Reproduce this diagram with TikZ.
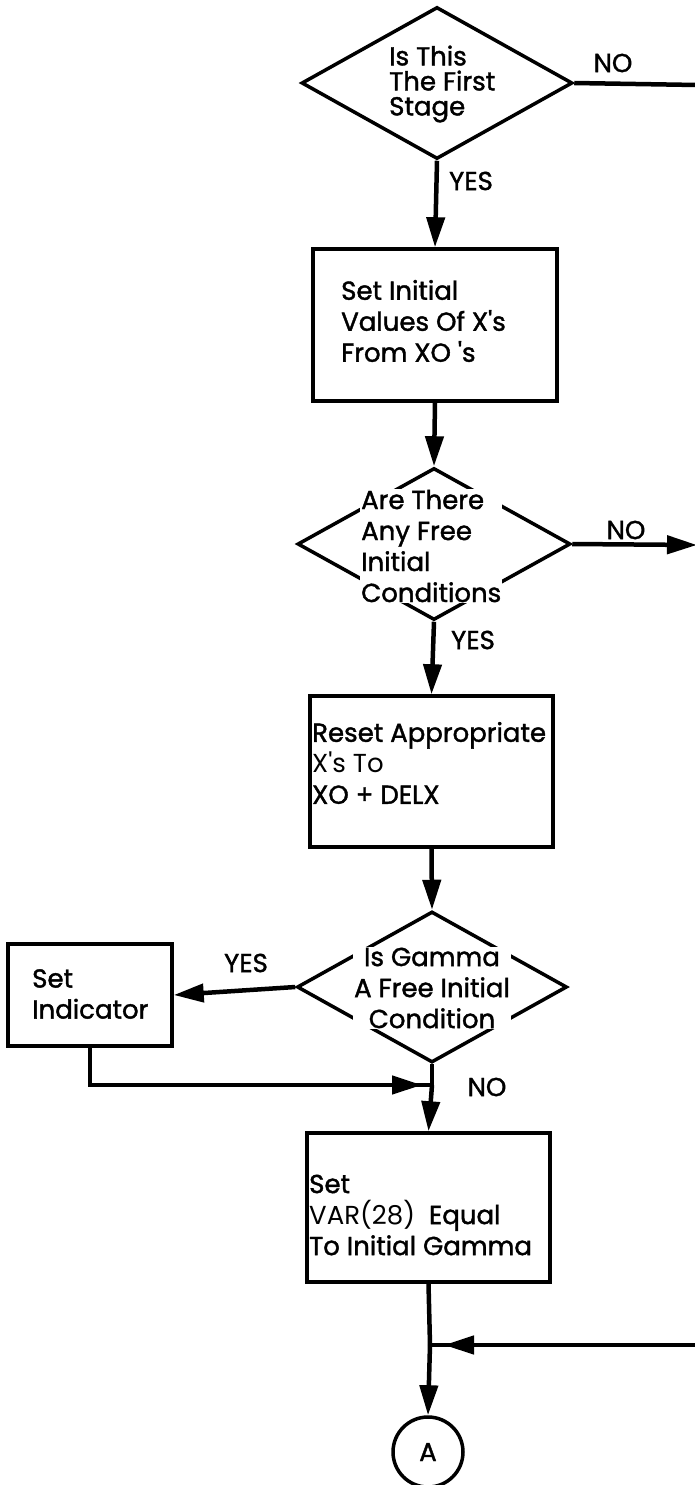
\documentclass[tikz,border=0pt]{standalone}
\usepackage{fontspec}
\setmainfont{Poppins}[Ligatures=TeXOff]
\newfontfamily\heavy{Poppins}[FakeBold=1.5,Ligatures=TeXOff]
\usetikzlibrary{shapes.geometric,arrows.meta}
\begin{document}
\begin{tikzpicture}[x=1pt,y=-1pt,
  every node/.style={font=\heavy\fontsize{26}{31}\selectfont},
  procbox/.style={draw,line width=3.5pt,rectangle,inner sep=0pt},
  decision/.style={draw,line width=3.5pt,diamond,inner sep=0pt},
  txt/.style={inner sep=0pt,align=left,anchor=west},
  lbl/.style={inner sep=0pt},
  flow/.style={line width=4.5pt},
  arr/.style={flow,-{Triangle[length=30pt,width=18pt]}},
  conn/.style={draw,circle,line width=3.5pt,minimum size=70pt,inner sep=0pt}]
\useasboundingbox (0,0) rectangle (694,1485);

% decisions and processes
\node[decision,minimum width=271pt,minimum height=152pt] (d1) at (437,83) {};
\node[txt,font=\heavy\fontsize{26}{25}\selectfont] (d1t) at (389,84) {Is This\\The First\\Stage};

\node[procbox,minimum width=244pt,minimum height=152pt] (b1) at (435,325) {};
\node[txt] (b1t) at (341,321) {Set Initial\\Values Of X's\\From XO 's};

\node[decision,minimum width=273pt,minimum height=152pt] (d2) at (434,544) {};
\node[txt,fill=white,inner sep=1pt] (d2t) at (360,546) {Are There\\Any Free\\Initial\\Conditions};

\node[procbox,minimum width=243pt,minimum height=151pt] (b2) at (431.5,771.5) {};
\node[txt] (b2t) at (312,763) {Reset Appropriate\\{\normalfont\fontsize{26}{31}\selectfont X's To}\\XO + DELX};

\node[decision,minimum width=270pt,minimum height=151pt] (d3) at (432,987) {};
\node[lbl,align=center,fill=white,inner sep=1pt] (d3t) at (432,988) {Is Gamma\\A Free Initial\\Condition};

\node[procbox,minimum width=164pt,minimum height=102pt] (si) at (90,995) {};
\node[txt] (sit) at (32,994) {Set\\Indicator};

\node[procbox,minimum width=243pt,minimum height=149pt] (b3) at (428.5,1207.5) {};
\node[txt] (b3t) at (309,1215) {Set\\{\normalfont\fontsize{26}{31}\selectfont VAR(28)}~~Equal\\To Initial Gamma};

\node[conn] (A) at (428,1452) {A};

% junctions and off-page ends
\coordinate (m1) at (432,1085);
\coordinate (m2) at (430,1345);
\coordinate (r1) at (697,85);
\coordinate (r2) at (697,545);
\coordinate (r3) at (697,1345);

% connectors
\draw[arr] (d1.south) -- (b1.north);
\draw[flow] (d1.east) -- (r1);
\draw[arr] (b1.south) -- (d2.north);
\draw[arr] (d2.east) -- (r2);
\draw[arr] (d2.south) -- (b2.north);
\draw[arr] (b2.south) -- (d3.north);
\draw[arr] (d3.west) -- (si.east);
\draw[flow] (si.south) |- (m1);
\draw[arr,shorten >=10pt] (si.south) |- (m1);
\draw[flow] (d3.south) -- (m1);
\draw[arr] (m1) -- (b3.north);
\draw[flow] (b3.south) -- (m2);
\draw[arr] (r3) -- ([xshift=14pt]m2);
\draw[flow] (r3) -- (m2);
\draw[arr] (m2) -- (A.north);

% branch labels
\node[lbl] (y1) at (471,181) {YES};
\node[lbl] (n1) at (613,63) {NO};
\node[lbl] (n2) at (626,530) {NO};
\node[lbl] (y2) at (473,640) {YES};
\node[lbl] (y3) at (246,963) {YES};
\node[lbl] (n3) at (487,1087) {NO};
\end{tikzpicture}
\end{document}
